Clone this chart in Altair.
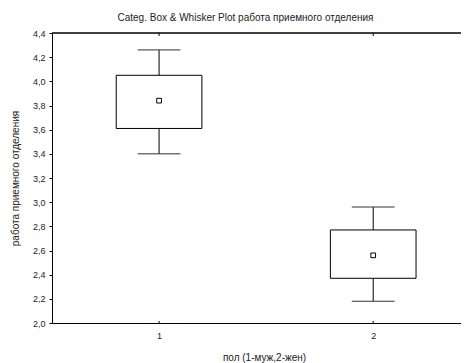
import altair as alt
import pandas as pd

cats = [1, 2]
whisker_low = [3.40, 2.18]
box_low = [3.61, 2.37]
means = [3.84, 2.56]
box_high = [4.05, 2.77]
whisker_high = [4.26, 2.96]
y_ticks = [2.0, 2.2, 2.4, 2.6, 2.8, 3.0, 3.2, 3.4, 3.6, 3.8, 4.0, 4.2, 4.4]

df = pd.DataFrame({
    "cat": cats,
    "wlo": whisker_low,
    "q1": box_low,
    "mean": means,
    "q3": box_high,
    "whi": whisker_high,
})

W, H = 409, 290
FONT = "Liberation Sans"

xscale = alt.Scale(domain=[0.5, 2.41], nice=False, zero=False)
yscale = alt.Scale(domain=[2.0, 4.4], nice=False, zero=False)

base = alt.Chart(df)

x_enc = alt.X(
    "cat:Q", scale=xscale,
    axis=alt.Axis(
        title="пол (1-муж,2-жен)", values=cats, format="d",
        tickSize=0, labelPadding=8, grid=False, domainColor="black",
        titleX=212, titleY=29, titleFont=FONT, titleFontSize=10,
        titleFontWeight="normal", labelFont=FONT, labelFontSize=9,
        labelColor="#222", titleColor="#222",
    ),
)
y_enc = alt.Y(
    "wlo:Q", scale=yscale,
    axis=alt.Axis(
        title="работа приемного отделения",
        values=y_ticks,
        labelExpr="replace(format(datum.value, '.1f'), '.', ',')",
        labelOverlap=False,
        tickSize=3, tickColor="black", labelPadding=4, grid=False,
        domainColor="black", titlePadding=12, titleFont=FONT,
        titleFontSize=10, titleFontWeight="normal", labelFont=FONT,
        labelFontSize=9, labelColor="#222", titleColor="#222",
    ),
)

whisker = base.mark_rule(color="black", strokeWidth=1).encode(
    x=x_enc, y=y_enc, y2="whi:Q"
)

caps_lo = base.transform_calculate(
    a="datum.cat - 0.1", b="datum.cat + 0.1"
).mark_rule(color="#333", strokeWidth=1).encode(
    x=alt.X("a:Q", scale=xscale), x2="b:Q",
    y=alt.Y("wlo:Q", scale=yscale),
)
caps_hi = base.transform_calculate(
    a="datum.cat - 0.1", b="datum.cat + 0.1"
).mark_rule(color="#333", strokeWidth=1).encode(
    x=alt.X("a:Q", scale=xscale), x2="b:Q",
    y=alt.Y("whi:Q", scale=yscale),
)

box = base.transform_calculate(
    a="datum.cat - 0.2", b="datum.cat + 0.2"
).mark_rect(fill="white", stroke="black", strokeWidth=1).encode(
    x=alt.X("a:Q", scale=xscale), x2="b:Q",
    y=alt.Y("q1:Q", scale=yscale), y2="q3:Q",
)

mean_pt = base.mark_square(
    size=22, filled=False, stroke="black", strokeWidth=1, fill="white", fillOpacity=1
).encode(
    x=alt.X("cat:Q", scale=xscale),
    y=alt.Y("mean:Q", scale=yscale),
)

top_line = base.mark_rule(color="black", strokeWidth=1).encode(
    x=alt.value(0), x2=alt.value(W), y=alt.value(0)
)
top_ticks = base.mark_rule(color="black", strokeWidth=1).encode(
    x=alt.X("cat:Q", scale=xscale), y=alt.value(0), y2=alt.value(3)
)
bottom_ticks = base.mark_rule(color="black", strokeWidth=1).encode(
    x=alt.X("cat:Q", scale=xscale), y=alt.value(H), y2=alt.value(H - 2)
)

chart = alt.layer(
    whisker, caps_lo, caps_hi, box, mean_pt, top_line, top_ticks, bottom_ticks
).properties(
    width=W, height=H,
    title=alt.TitleParams(
        "Categ. Box & Whisker Plot работа приемного отделения",
        font=FONT, fontSize=10, fontWeight="normal", color="#222",
        anchor="middle", dx=-11, offset=6,
    ),
    autosize=alt.AutoSizeParams(type="none"),
    padding={"left": 44, "top": 25, "right": 0, "bottom": 40},
).configure_view(stroke=None).configure_axis(labelOverlap=False, tickCount=13)

chart.save("out.html", embed_options={"renderer": "svg", "actions": False})
